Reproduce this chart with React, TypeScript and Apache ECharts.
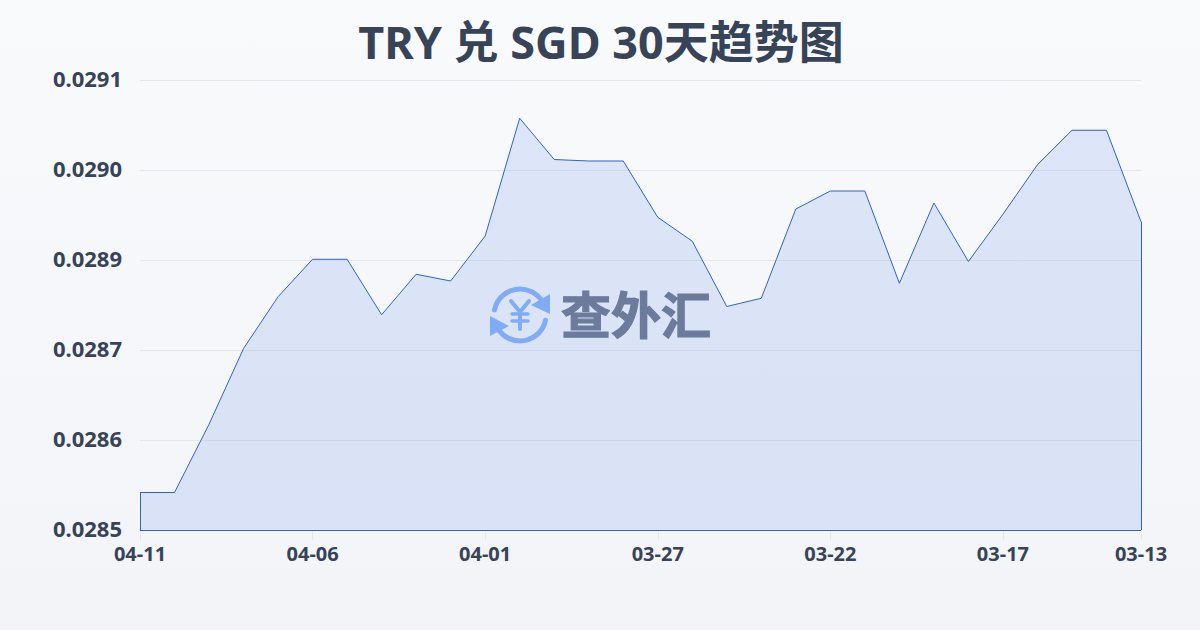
import React, { useEffect, useRef } from "react";
import * as echarts from "echarts";

const titleText = "TRY 兑 SGD 30天趋势图";
const watermarkText = "查外汇";
const categories = [
  "04-11","04-10","04-09","04-08","04-07","04-06","04-05","04-04","04-03","04-02",
  "04-01","03-31","03-30","03-29","03-28","03-27","03-26","03-25","03-24","03-23",
  "03-22","03-21","03-20","03-19","03-18","03-17","03-16","03-15","03-14","03-13",
];
const rates = [
  0.02855,0.02855,0.028641,0.028742,0.028811,0.028861,0.028861,0.028787,0.028841,0.028832,
  0.028892,0.029049,0.028994,0.028992,0.028992,0.028917,0.028885,0.028798,0.028809,0.028928,
  0.028952,0.028952,0.028829,0.028936,0.028858,0.028921,0.028987,0.029033,0.029033,0.028911,
];
const yMin = 0.0285;
const yMax = 0.0291;
const yStep = 0.00012;

const FONT = '"Noto Sans", "Noto Sans CJK SC", sans-serif';
const LINE = "#2f62c8";
const ICON = "#8db6f7";
const showTick = (i: number) => i % 5 === 0 || i === categories.length - 1;

export default function App() {
  const ref = useRef<HTMLDivElement>(null);
  useEffect(() => {
    document.body.style.margin = "0";
    const chart = echarts.init(ref.current!, null, { renderer: "svg" });
    const last = categories.length - 1;
    const edge = { symbol: "none" };
    chart.setOption({
      animation: false,
      backgroundColor: {
        type: "linear", x: 0, y: 0, x2: 0, y2: 1,
        colorStops: [{ offset: 0, color: "#f8fafc" }, { offset: 1, color: "#f2f4f7" }],
      },
      title: {
        text: titleText,
        left: 596,
        textAlign: "center",
        top: 14,
        textStyle: { fontFamily: FONT, fontSize: 45, fontWeight: "bold", color: "#374357" },
      },
      grid: { left: 140, right: 59, top: 80, bottom: 100 },
      xAxis: {
        type: "category",
        boundaryGap: false,
        data: categories,
        axisLine: { show: false },
        axisTick: { show: true, length: 10, interval: (i: number) => showTick(i), lineStyle: { color: "#e5e7eb" } },
        axisLabel: {
          interval: (i: number) => showTick(i),
          hideOverlap: false,
          margin: 13,
          fontFamily: FONT, fontSize: 20, fontWeight: "bold", color: "#374357",
        },
        splitLine: { show: false },
      },
      yAxis: {
        type: "value",
        min: yMin,
        max: yMax,
        interval: yStep,
        axisLine: { show: false },
        axisTick: { show: false },
        axisLabel: {
          margin: 18,
          verticalAlign: "bottom",
          lineHeight: 4,
          formatter: (v: number) => v.toFixed(4),
          fontFamily: FONT, fontSize: 22, fontWeight: "bold", color: "#374357",
        },
        splitLine: { show: true, lineStyle: { color: "#e5e7eb", width: 1 } },
      },
      series: [
        {
          type: "line",
          data: rates,
          symbol: "none",
          smooth: false,
          lineStyle: { color: LINE, width: 1 },
          areaStyle: { color: "rgba(37,99,235,0.18)", origin: "start" },
          markLine: {
            silent: true,
            symbol: "none",
            animation: false,
            label: { show: false },
            lineStyle: { color: LINE, width: 1, type: "solid" },
            data: [
              [{ coord: [categories[0], yMin], ...edge }, { coord: [categories[0], rates[0]], ...edge }],
              [{ coord: [categories[0], yMin], ...edge }, { coord: [categories[last], yMin], ...edge }],
              [{ coord: [categories[last], yMin], ...edge }, { coord: [categories[last], rates[last]], ...edge }],
            ],
          },
        },
      ],
      graphic: [
        {
          type: "group",
          z: 100,
          silent: true,
          children: [
            { type: "arc", shape: { cx: 520, cy: 315, r: 26, startAngle: -2.95, endAngle: -0.55 }, style: { stroke: ICON, lineWidth: 5, lineCap: "round", fill: "none" } },
            { type: "arc", shape: { cx: 520, cy: 315, r: 26, startAngle: 0.2, endAngle: 2.6 }, style: { stroke: ICON, lineWidth: 5, lineCap: "round", fill: "none" } },
            { type: "polygon", shape: { points: [[550, 294], [550, 314], [531, 305]] }, style: { fill: ICON } },
            { type: "polygon", shape: { points: [[490, 316], [509, 326], [490, 336]] }, style: { fill: ICON } },
            { type: "polyline", shape: { points: [[511, 301], [520, 312], [529, 301]] }, style: { stroke: ICON, lineWidth: 4, lineCap: "round", lineJoin: "round", fill: "none" } },
            { type: "line", shape: { x1: 520, y1: 312, x2: 520, y2: 329 }, style: { stroke: ICON, lineWidth: 4, lineCap: "round" } },
            { type: "line", shape: { x1: 512, y1: 314, x2: 528, y2: 314 }, style: { stroke: ICON, lineWidth: 3.5, lineCap: "round" } },
            { type: "line", shape: { x1: 512, y1: 321, x2: 528, y2: 321 }, style: { stroke: ICON, lineWidth: 3.5, lineCap: "round" } },
            {
              type: "text",
              x: 561, y: 287,
              style: {
                text: watermarkText,
                fontFamily: '"Noto Sans CJK SC", sans-serif',
                fontSize: 50,
                fontWeight: "bold",
                fill: "#767f92",
                stroke: "#767f92",
                lineWidth: 1.2,
              },
            },
          ],
        },
      ],
    });
    return () => chart.dispose();
  }, []);
  return <div ref={ref} style={{ width: 1200, height: 630 }} />;
}
